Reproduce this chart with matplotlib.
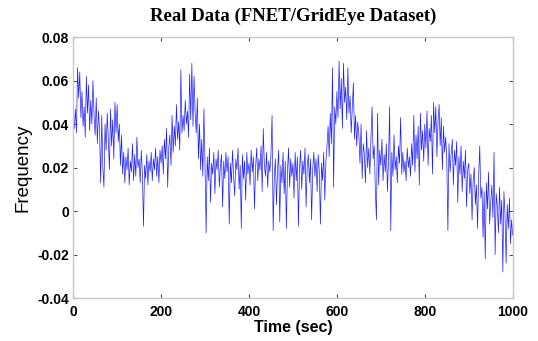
import matplotlib
matplotlib.use("Agg")
import matplotlib.pyplot as plt
import numpy as np

# Frequency deviation samples (one every 2.5 s)
freq = [
    0.041, 0.038, 0.047, 0.036, 0.066, 0.052, 0.064, 0.043, 0.055, 0.039, 0.048, 0.034, 0.062, 0.045, 0.058, 0.037, 0.051, 0.040, 0.060, 0.044,
    0.035, 0.052, 0.031, 0.046, 0.038, 0.013, 0.044, 0.020, 0.011, 0.040, 0.028, 0.045, 0.033, 0.019, 0.047, 0.030, 0.042, 0.024, 0.050, 0.036,
    0.049, 0.032, 0.040, 0.021, 0.035, 0.017, 0.027, 0.013, 0.025, 0.019, 0.029, 0.012, 0.023, 0.018, 0.031, 0.014, 0.026, 0.016, 0.034, 0.020,
    0.024, 0.013, 0.028, 0.017, -0.007, 0.021, 0.015, 0.026, 0.012, 0.023, 0.018, 0.027, 0.014, 0.024, 0.019, 0.029, 0.016, 0.025, 0.013, 0.028,
    0.022, 0.030, 0.017, 0.033, 0.024, 0.038, 0.011, 0.029, 0.035, 0.021, 0.044, 0.027, 0.039, 0.030, 0.049, 0.033, 0.041, 0.028, 0.065, 0.036,
    0.044, 0.037, 0.051, 0.040, 0.046, 0.034, 0.063, 0.042, 0.068, 0.039, 0.062, 0.045, 0.036, 0.052, 0.024, 0.040, 0.019, 0.033, 0.016, 0.047,
    0.021, -0.010, 0.025, 0.014, 0.029, 0.004, 0.022, 0.017, 0.027, 0.008, 0.024, 0.019, 0.028, 0.011, 0.021, 0.026, 0.002, 0.023, 0.015, 0.027,
    0.018, 0.025, -0.006, 0.022, 0.013, 0.028, 0.016, 0.007, 0.024, 0.019, 0.029, 0.010, 0.021, -0.008, 0.026, 0.015, 0.023, 0.005, 0.027, 0.017,
    0.022, 0.012, 0.028, 0.018, 0.025, 0.001, 0.020, 0.029, 0.014, 0.024, 0.019, 0.030, 0.009, 0.038, 0.021, 0.016, 0.027, 0.011, 0.023, 0.018,
    0.026, 0.044, -0.009, 0.015, 0.024, 0.003, 0.019, 0.028, -0.005, 0.021, 0.013, 0.027, 0.008, 0.023, -0.008, 0.018, 0.029, 0.011, 0.024, 0.016,
    0.022, 0.006, 0.027, 0.014, 0.025, -0.007, 0.020, 0.028, 0.010, 0.023, 0.017, 0.029, 0.002, 0.021, 0.026, 0.013, 0.024, -0.004, 0.019, 0.027,
    0.016, 0.024, 0.009, 0.026, 0.018, -0.006, 0.022, 0.014, 0.027, 0.005, 0.023, 0.030, 0.039, 0.025, 0.045, 0.031, 0.066, 0.011, 0.048, 0.040,
    0.055, 0.043, 0.069, 0.047, 0.061, 0.038, 0.068, 0.050, 0.057, 0.042, 0.066, 0.045, 0.053, 0.036, 0.048, 0.059, 0.033, 0.044, 0.030, 0.041,
    0.035, 0.022, 0.040, 0.015, 0.031, 0.026, 0.013, 0.037, 0.020, 0.029, 0.017, 0.034, 0.048, 0.024, 0.030, 0.009, -0.004, 0.045, 0.012, 0.028,
    0.021, 0.033, 0.014, 0.026, 0.018, 0.031, 0.009, 0.024, 0.048, -0.009, 0.027, 0.016, 0.035, 0.019, 0.025, 0.013, 0.030, 0.022, 0.043, 0.017,
    0.027, 0.018, 0.023, 0.014, 0.029, 0.020, 0.025, 0.016, 0.031, 0.021, 0.044, 0.018, 0.035, 0.024, 0.039, 0.012, 0.045, 0.028, 0.037, 0.023,
    0.040, 0.029, 0.046, 0.021, 0.038, 0.032, 0.044, 0.017, 0.050, 0.036, 0.048, 0.025, 0.041, 0.049, 0.030, 0.043, 0.019, 0.039, 0.027, 0.034,
    0.024, -0.009, 0.031, 0.018, 0.026, 0.033, 0.012, 0.028, 0.021, 0.032, 0.004, 0.025, 0.017, 0.030, 0.009, 0.023, 0.015, 0.028, 0.002, 0.019,
    0.022, 0.008, 0.017, -0.004, 0.014, 0.020, 0.003, 0.012, -0.008, 0.016, 0.030, 0.006, 0.011, -0.012, 0.009, -0.022, 0.013, 0.001, 0.018, -0.006,
    0.004, 0.012, -0.003, 0.027, -0.020, 0.008, 0.002, -0.010, 0.011, -0.006, 0.005, -0.028, 0.009, -0.002, -0.024, 0.003, -0.008, 0.006, -0.015, -0.004,
    -0.011,
]
time = np.linspace(0, 1000, len(freq))

xticks = [0, 200, 400, 600, 800, 1000]
yticks = [-0.04, -0.02, 0, 0.02, 0.04, 0.06, 0.08]
ytick_labels = ["-0.04", "-0.02", "0", "0.02", "0.04", "0.06", "0.08"]

fig = plt.figure(figsize=(5.38, 3.41), dpi=100, facecolor="white")
ax = fig.add_axes([0.136, 0.126, 0.817, 0.765])

ax.plot(time, freq, color="#2020ff", linewidth=0.5)

ax.set_xlim(0, 1000)
ax.set_ylim(-0.04, 0.08)
ax.set_xticks(xticks)
ax.set_yticks(yticks)
ax.set_xticklabels([str(t) for t in xticks], fontfamily="Liberation Sans",
                   fontweight="bold", fontsize=10)
ax.set_yticklabels(ytick_labels, fontfamily="Liberation Sans",
                   fontweight="bold", fontsize=10)
ax.tick_params(direction="in", length=3, width=0.8, color="#505050",
               top=True, right=True)
ax.tick_params(axis="x", pad=5)
ax.tick_params(axis="y", pad=3)

for sp in ax.spines.values():
    sp.set_color("#c8c8c8")
    sp.set_linewidth(1.0)

ax.set_xlabel("Time (sec)", fontfamily="Liberation Sans", fontweight="bold",
              fontsize=11.5, labelpad=1)
ax.set_ylabel("Frequency", fontfamily="Liberation Sans", fontsize=13.5,
              labelpad=4)
ax.set_title("Real Data (FNET/GridEye Dataset)", fontfamily="Liberation Serif",
             fontweight="bold", fontsize=13.5, pad=12)

fig.savefig("out.png", dpi=100, facecolor="white")
